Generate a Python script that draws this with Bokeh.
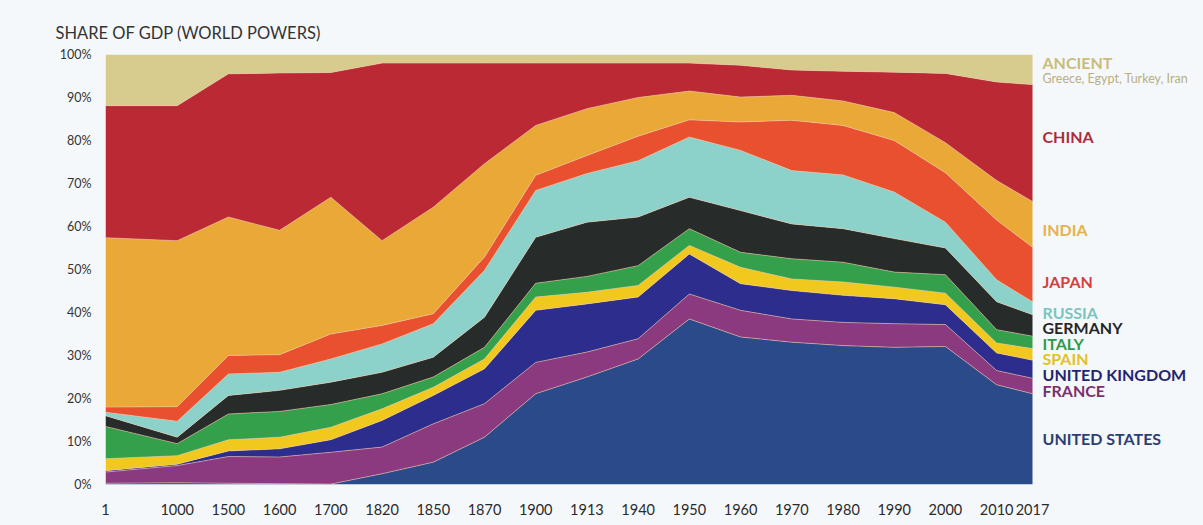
from bokeh.plotting import figure
from bokeh.models import ColumnDataSource, Range1d, FixedTicker
from bokeh.core.properties import value
from bokeh.embed import file_html
from bokeh.resources import INLINE

years = ["1", "1000", "1500", "1600", "1700", "1820", "1850", "1870", "1900", "1913",
         "1940", "1950", "1960", "1970", "1980", "1990", "2000", "2010", "2017"]

united_states  = [0.3, 0.4, 0.3, 0.2, 0.1, 2.5, 5.2, 11.0, 21.1, 25.0, 29.2, 38.5, 34.3, 33.1, 32.3, 31.9, 32.1, 23.2, 21.1]
france         = [2.6, 4.0, 6.2, 6.2, 7.4, 6.2, 8.9, 7.8, 7.3, 5.8, 4.7, 5.8, 6.2, 5.4, 5.4, 5.5, 5.1, 3.3, 3.6]
united_kingdom = [0.3, 0.3, 1.3, 1.9, 2.9, 6.2, 6.6, 8.1, 12.1, 11.2, 9.7, 9.3, 6.2, 6.6, 6.3, 5.8, 4.6, 4.1, 4.2]
spain          = [2.8, 2.0, 2.6, 2.7, 2.9, 2.7, 1.9, 2.3, 3.1, 2.7, 2.7, 2.0, 3.8, 2.7, 3.1, 2.7, 2.7, 2.3, 2.7]
italy          = [7.5, 2.8, 6.0, 6.0, 5.3, 3.5, 2.4, 2.7, 3.2, 3.7, 4.6, 3.9, 3.5, 4.7, 4.6, 3.5, 4.3, 3.1, 2.9]
germany        = [2.5, 1.5, 4.3, 4.9, 5.2, 5.0, 4.6, 7.0, 10.7, 12.6, 11.3, 7.3, 9.7, 8.1, 7.8, 7.8, 6.2, 6.5, 5.0]
russia         = [0.8, 3.7, 5.0, 4.2, 5.4, 6.6, 7.8, 10.9, 10.9, 11.3, 13.1, 14.0, 14.0, 12.4, 12.5, 10.8, 6.0, 5.1, 3.0]
japan          = [1.2, 3.4, 4.3, 4.1, 5.8, 4.3, 2.3, 3.1, 3.5, 4.2, 5.7, 4.0, 6.6, 11.7, 11.5, 12.0, 11.5, 13.9, 12.7]
india          = [39.4, 38.6, 32.2, 28.9, 31.8, 19.7, 24.8, 21.7, 11.6, 10.9, 9.0, 6.7, 5.8, 5.8, 5.7, 6.5, 7.0, 9.2, 10.6]
china          = [30.7, 31.4, 33.3, 36.6, 29.0, 41.3, 33.5, 23.4, 14.5, 10.6, 8.0, 6.5, 7.4, 5.9, 6.9, 9.4, 16.1, 22.9, 27.2]
ancient        = [11.9, 11.9, 4.5, 4.3, 4.2, 2.0, 2.0, 2.0, 2.0, 2.0, 2.0, 2.0, 2.5, 3.6, 3.9, 4.1, 4.4, 6.4, 7.0]

series_names = ["UNITED STATES", "FRANCE", "UNITED KINGDOM", "SPAIN", "ITALY", "GERMANY",
                "RUSSIA", "JAPAN", "INDIA", "CHINA", "ANCIENT"]
ancient_note = "Greece, Egypt, Turkey, Iran"
title_text = "SHARE OF GDP (WORLD POWERS)"
y_ticks = [0, 10, 20, 30, 40, 50, 60, 70, 80, 90, 100]

# ---- layout / style ----
fills = ["#2b4a8a", "#8c3a7f", "#2c2d8c", "#f1c91e", "#35a04b", "#272b2a",
         "#8dd2ca", "#e9502f", "#eaa937", "#ba2934", "#d7cb8d"]
label_colors = ["#2d3f72", "#7b2f6f", "#24246f", "#e2c21f", "#2f9a4a", "#262626",
                "#7cc4be", "#d53f3b", "#e4b34c", "#ab2d3d", "#c9bd7b"]
label_y = [10.7, 21.9, 25.6, 29.3, 32.8, 36.5, 40.0, 47.2, 59.3, 80.9, 98.1]
bg = "#f5f8fb"

# x positions: uneven gaps (first wider, last narrower), as in the reference
gaps = [1.4] + [1.0] * (len(years) - 3) + [0.7]
xs = [0.0]
for g in gaps:
    xs.append(round(xs[-1] + g, 2))

keys = ["us", "fr", "uk", "es", "it", "de", "ru", "jp", "in", "cn", "an"]
data = dict(x=xs)
for k, v in zip(keys, [united_states, france, united_kingdom, spain, italy, germany,
                       russia, japan, india, china, ancient]):
    data[k] = v
source = ColumnDataSource(data)

W, H = 1187, 509
left, top, bottom = 97, 46, 33
area_w = 927                       # pixel width of the stacked area
frame_w = W - left                 # frame extends to the right to host labels
unit = area_w / xs[-1]
x_end = frame_w / unit

p = figure(width=W, height=H, output_backend="svg", toolbar_location=None,
           x_range=Range1d(0, x_end), y_range=Range1d(0, 100),
           min_border_left=left, min_border_right=0, min_border_top=top, min_border_bottom=bottom)
p.background_fill_color = bg
p.border_fill_color = bg
p.outline_line_color = None
p.grid.visible = False

p.title.text = title_text
p.title.align = "left"
p.title.offset = -50
p.title.text_font = "Lato"
p.title.text_font_size = "16.5px"
p.title.text_font_style = "normal"
p.title.text_color = "#333333"
p.title.standoff = 23

p.varea_stack(stackers=keys, x="x", color=fills, source=source)
p.vline_stack(stackers=keys[:-1], x="x", color="#f3c9a6", line_alpha=0.55, line_width=1, source=source)

xa = p.xaxis[0]
xa.ticker = FixedTicker(ticks=xs)
xa.major_label_overrides = {x: y for x, y in zip(xs, years)}
xa.axis_line_color = None
xa.major_tick_line_color = None
xa.minor_tick_line_color = None
xa.major_label_standoff = 13
xa.major_label_text_font = "Lato"
xa.major_label_text_font_size = "14.5px"
xa.major_label_text_color = "#2a2a2a"

ya = p.yaxis[0]
ya.ticker = FixedTicker(ticks=y_ticks)
ya.major_label_overrides = {t: f"{t}%" for t in y_ticks}
ya.axis_line_color = None
ya.major_tick_line_color = None
ya.minor_tick_line_color = None
ya.major_label_standoff = 8
ya.major_label_text_font = "Lato"
ya.major_label_text_font_size = "12.5px"
ya.major_label_text_color = "#333333"

lab = ColumnDataSource(dict(x=[xs[-1]] * len(series_names), y=label_y,
                            text=series_names, color=label_colors))
p.text(x="x", y="y", text="text", text_color="color", source=lab, x_offset=10,
       text_font=value("Lato"), text_font_style="bold", text_font_size="16px",
       text_baseline="middle", text_align="left")
p.text(x=[xs[-1]], y=[94.4], text=[ancient_note], x_offset=10,
       text_font=value("Lato"), text_font_size="12.5px", text_color="#b9ae80",
       text_baseline="middle", text_align="left")

html = file_html(p, INLINE)
html = html.replace("<body>", f'<body style="background:{bg}; margin:8px;">')
open("out.html", "w").write(html)
